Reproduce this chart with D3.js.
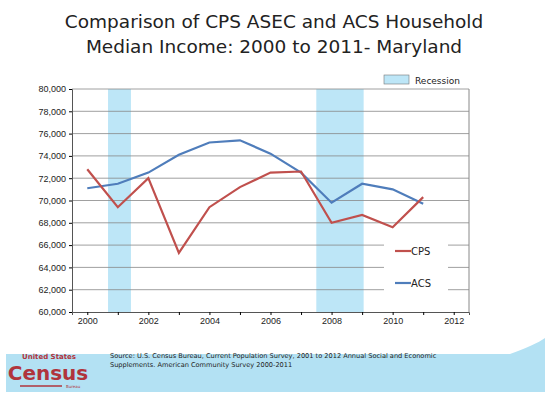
<!DOCTYPE html>
<html><head><meta charset="utf-8">
<script src="https://cdn.jsdelivr.net/npm/d3@7"></script>
<style>body{margin:0;background:#fff}svg{display:block;font-family:"DejaVu Sans",sans-serif}</style>
</head><body><div id="wrapper"></div>
<script>
// Data
const years = [2000,2001,2002,2003,2004,2005,2006,2007,2008,2009,2010,2011];
const cps = [72800,69400,72000,65300,69400,71200,72500,72600,68000,68700,67600,70300];
const acs = [71100,71500,72500,74100,75200,75400,74200,72500,69800,71500,71000,69700];
const recessions = [[2000.68,2001.43],[2007.5,2009.05]];
const xTicks = [2000,2002,2004,2006,2008,2010,2012];
const yTicks = d3.range(60000,80001,2000);

const svg = d3.select("#wrapper").append("svg").attr("width",548).attr("height",404);

// Title
svg.append("text").attr("x",274).attr("y",28).attr("text-anchor","middle")
  .style("font-size","18.5px").attr("fill","#222").text("Comparison of CPS ASEC and ACS Household");
svg.append("text").attr("x",274).attr("y",53).attr("text-anchor","middle")
  .style("font-size","18.5px").attr("fill","#222").text("Median Income:  2000 to 2011- Maryland");

// Scales
const x = d3.scaleLinear().domain([1999.5,2012.5]).range([72,469]);
const y = d3.scaleLinear().domain([60000,80000]).range([312,89]);

// Recession bands
svg.selectAll(".rec").data(recessions).enter().append("rect")
  .attr("x",d=>x(d[0])).attr("width",d=>x(d[1])-x(d[0]))
  .attr("y",y(80000)).attr("height",y(60000)-y(80000)).attr("fill","#bde6f7");

// Gridlines
svg.append("g").selectAll("line").data(yTicks.slice(1)).enter().append("line")
  .attr("x1",72).attr("x2",469).attr("y1",d=>y(d)).attr("y2",d=>y(d))
  .attr("stroke","#888").attr("stroke-width",0.8);

// Axes
const yAxis = svg.append("g").attr("transform","translate(72,0)")
  .call(d3.axisLeft(y).tickValues(yTicks).tickFormat(d3.format(",")).tickSize(3));
const xAxis = svg.append("g").attr("transform",`translate(0,${y(60000)})`)
  .call(d3.axisBottom(x).tickValues(years.concat([2012])).tickFormat(d=>xTicks.includes(d)?d:"").tickSize(3));
[xAxis,yAxis].forEach(a=>{a.select(".domain").attr("stroke","#555");a.selectAll("text").style("font-size","9px").attr("fill","#222");});
svg.append("line").attr("x1",469).attr("x2",469).attr("y1",89).attr("y2",312).attr("stroke","#888");

// Lines
const line = d3.line().x((d,i)=>x(years[i])).y(d=>y(d));
svg.append("path").datum(acs).attr("d",line).attr("fill","none").attr("stroke","#4f7dbb").attr("stroke-width",2.2);
svg.append("path").datum(cps).attr("d",line).attr("fill","none").attr("stroke","#c0504d").attr("stroke-width",2.2);

// Legend
svg.append("rect").attr("x",384).attr("y",75).attr("width",25).attr("height",9).attr("fill","#bde6f7").attr("stroke","#777").attr("stroke-width",0.6);
svg.append("text").attr("x",415).attr("y",84).style("font-size","9px").attr("fill","#222").text("Recession");
svg.append("rect").attr("x",384).attr("y",236).attr("width",64).attr("height",60).attr("fill","#fff");
[["CPS","#c0504d",251],["ACS","#4f7dbb",283]].forEach(([t,c,yy])=>{
  svg.append("line").attr("x1",395).attr("x2",411).attr("y1",yy).attr("y2",yy).attr("stroke",c).attr("stroke-width",2.2);
  svg.append("text").attr("x",411).attr("y",yy+4).style("font-size","10px").attr("fill","#222").text(t);
});

// Footer
svg.append("path").attr("d","M6,354 L510,354 Q535,345 545,338 L545,392 L6,392 Z").attr("fill","#b3e1f3");
svg.append("text").attr("x",49).attr("y",359).attr("text-anchor","middle").style("font-size","7px").style("font-weight","bold").attr("fill","#b0343c").text("United States");
svg.append("text").attr("x",48).attr("y",380).attr("text-anchor","middle").style("font-size","20px").style("font-weight","bold").attr("fill","#b0343c").text("Census");
svg.append("line").attr("x1",20).attr("x2",62).attr("y1",386).attr("y2",386).attr("stroke","#b0343c").attr("stroke-width",1.5);
svg.append("text").attr("x",66).attr("y",388).style("font-size","4px").attr("fill","#b0343c").text("Bureau");
svg.append("text").attr("x",110).attr("y",358).style("font-size","6.6px").attr("fill","#222").text("Source: U.S. Census Bureau, Current Population Survey, 2001 to 2012 Annual Social and Economic");
svg.append("text").attr("x",110).attr("y",367).style("font-size","6.6px").attr("fill","#222").text("Supplements.  American Community Survey 2000-2011");
</script></body></html>
